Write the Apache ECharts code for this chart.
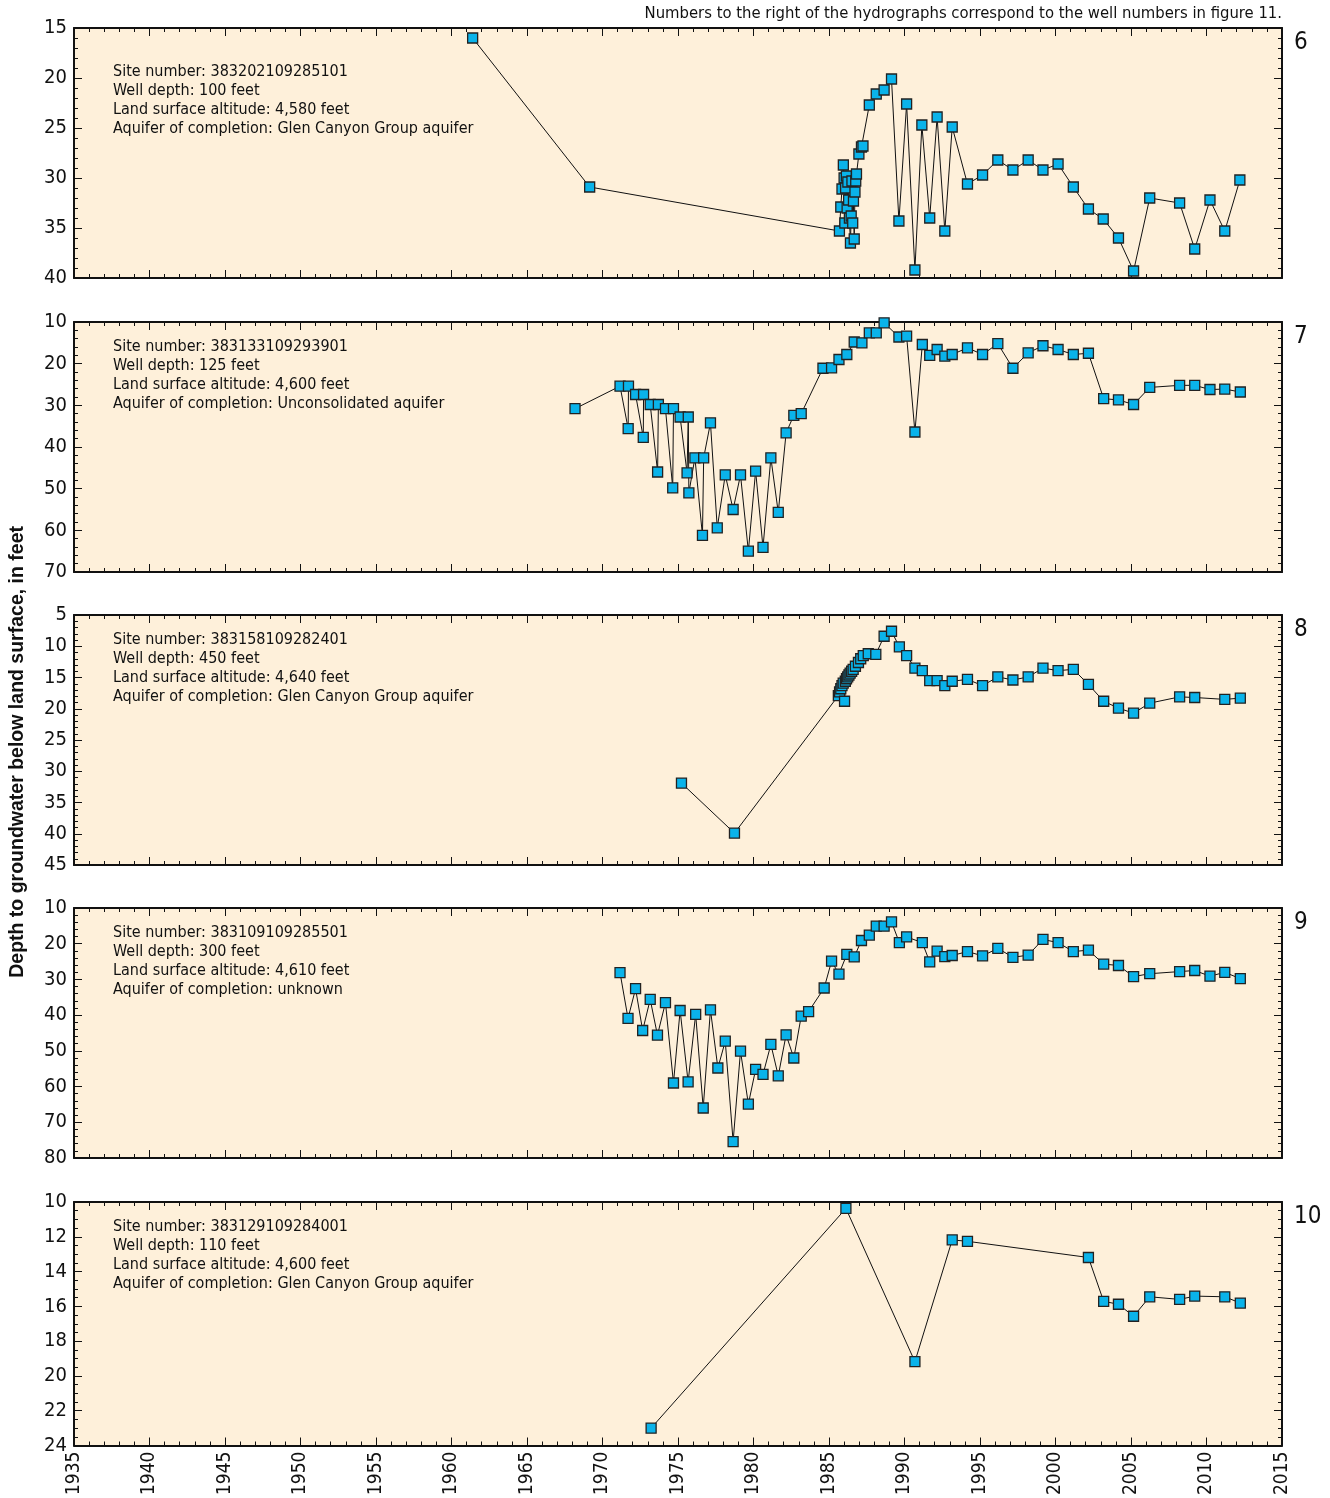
<!DOCTYPE html>
<html>
<head>
<meta charset="utf-8">
<script src="https://cdn.jsdelivr.net/npm/echarts@6/dist/echarts.min.js"></script>
<style>
  html, body { margin: 0; padding: 0; background: #ffffff; }
  #chart { width: 1330px; height: 1498px; }
</style>
</head>
<body>
<div id="chart"></div>
<script>
// Water-level measurements: [decimal year, depth to water in feet]
const well6 = [
  [1961.4, 16.0], [1969.15, 30.9],
  [1985.69, 35.3], [1985.78, 32.9], [1985.86, 31.1], [1985.95, 28.7], [1986.0, 30.0],
  [1986.05, 34.5], [1986.1, 31.0], [1986.15, 29.8], [1986.2, 33.0], [1986.25, 30.4],
  [1986.3, 32.2], [1986.35, 34.0], [1986.42, 36.5], [1986.47, 33.8], [1986.52, 30.3],
  [1986.57, 34.5], [1986.62, 32.3], [1986.67, 36.1], [1986.72, 31.4], [1986.77, 30.3],
  [1986.82, 29.6], [1986.98, 27.6], [1987.15, 26.9], [1987.25, 26.8], [1987.67, 22.7],
  [1988.13, 21.6], [1988.65, 21.2], [1989.14, 20.1], [1989.63, 34.3], [1990.14, 22.6],
  [1990.69, 39.2], [1991.15, 24.7], [1991.67, 34.0], [1992.16, 23.9], [1992.67, 35.3],
  [1993.16, 24.9], [1994.17, 30.6], [1995.17, 29.7], [1996.18, 28.2], [1997.18, 29.2],
  [1998.19, 28.2], [1999.17, 29.2], [2000.17, 28.6], [2001.18, 30.9], [2002.18, 33.1],
  [2003.16, 34.1], [2004.17, 36.0], [2005.17, 39.3], [2006.24, 32.0], [2008.22, 32.5],
  [2009.22, 37.1], [2010.23, 32.2], [2011.21, 35.3], [2012.21, 30.2]
];
const well7 = [
  [1968.18, 30.8], [1971.16, 25.4], [1971.7, 35.6], [1971.72, 25.4], [1972.19, 27.4],
  [1972.7, 37.7], [1972.72, 27.4], [1973.16, 29.8], [1973.65, 46.0], [1973.7, 29.8],
  [1974.17, 30.8], [1974.65, 49.8], [1974.7, 30.8], [1975.14, 32.8], [1975.6, 46.2],
  [1975.68, 32.8], [1975.72, 51.0], [1976.12, 42.6], [1976.62, 61.2], [1976.7, 42.6],
  [1977.15, 34.2], [1977.6, 59.4], [1978.13, 46.7], [1978.65, 55.0], [1979.14, 46.7],
  [1979.66, 65.0], [1980.14, 45.8], [1980.63, 64.1], [1981.15, 42.6], [1981.64, 55.7],
  [1982.16, 36.6], [1982.67, 32.4], [1983.16, 32.0], [1984.6, 21.1], [1985.17, 21.0],
  [1985.66, 19.0], [1986.18, 17.8], [1986.67, 14.8], [1987.18, 15.0], [1987.67, 12.6],
  [1988.13, 12.6], [1988.65, 10.2], [1989.63, 13.6], [1990.14, 13.4], [1990.69, 36.4],
  [1991.18, 15.4], [1991.67, 18.0], [1992.16, 16.6], [1992.67, 18.2], [1993.16, 17.8],
  [1994.17, 16.2], [1995.17, 17.8], [1996.18, 15.2], [1997.18, 21.1], [1998.19, 17.4],
  [1999.17, 15.7], [2000.17, 16.6], [2001.18, 17.8], [2002.18, 17.5], [2003.19, 28.4],
  [2004.17, 28.7], [2005.17, 29.8], [2006.24, 25.7], [2008.22, 25.2], [2009.22, 25.2],
  [2010.23, 26.2], [2011.21, 26.1], [2012.24, 26.8]
];
const well8 = [
  [1975.23, 31.9], [1978.74, 39.9], [1985.62, 17.9], [1985.7, 17.3], [1985.78, 16.8],
  [1985.86, 16.3], [1985.94, 15.9], [1986.03, 18.8], [1986.08, 15.6], [1986.16, 15.2],
  [1986.24, 14.9], [1986.32, 14.6], [1986.4, 14.3], [1986.5, 14.0], [1986.6, 13.7],
  [1986.75, 13.2], [1986.95, 12.6], [1987.1, 12.0], [1987.27, 11.5], [1987.6, 11.2],
  [1988.1, 11.3], [1988.65, 8.4], [1989.14, 7.6], [1989.66, 10.1], [1990.14, 11.5],
  [1990.69, 13.5], [1991.18, 13.9], [1991.67, 15.5], [1992.16, 15.5], [1992.67, 16.3],
  [1993.16, 15.6], [1994.17, 15.3], [1995.17, 16.3], [1996.18, 14.9], [1997.18, 15.4],
  [1998.19, 14.9], [1999.17, 13.5], [2000.17, 13.9], [2001.18, 13.7], [2002.18, 16.1],
  [2003.19, 18.8], [2004.17, 19.9], [2005.17, 20.7], [2006.24, 19.1], [2008.22, 18.1],
  [2009.22, 18.2], [2011.21, 18.5], [2012.24, 18.3]
];
const well9 = [
  [1971.16, 28.1], [1971.69, 40.9], [1972.19, 32.6], [1972.66, 44.3], [1973.16, 35.6],
  [1973.64, 45.6], [1974.17, 36.5], [1974.7, 59.0], [1975.14, 38.7], [1975.67, 58.7],
  [1976.17, 39.8], [1976.67, 66.0], [1977.15, 38.5], [1977.64, 54.8], [1978.13, 47.3],
  [1978.65, 75.4], [1979.14, 50.1], [1979.66, 64.9], [1980.14, 55.2], [1980.63, 56.6],
  [1981.15, 48.2], [1981.64, 57.0], [1982.16, 45.5], [1982.67, 52.0], [1983.16, 40.3],
  [1983.65, 39.0], [1984.68, 32.4], [1985.17, 24.9], [1985.66, 28.5], [1986.18, 23.0],
  [1986.67, 23.7], [1987.15, 19.1], [1987.67, 17.6], [1988.13, 15.1], [1988.65, 15.1],
  [1989.14, 13.9], [1989.66, 19.7], [1990.14, 18.1], [1991.18, 19.7], [1991.67, 25.1],
  [1992.16, 22.1], [1992.67, 23.6], [1993.16, 23.3], [1994.17, 22.2], [1995.17, 23.4],
  [1996.18, 21.3], [1997.18, 23.8], [1998.19, 23.2], [1999.17, 18.8], [2000.17, 19.7],
  [2001.18, 22.2], [2002.18, 21.8], [2003.19, 25.7], [2004.17, 26.1], [2005.17, 29.2],
  [2006.24, 28.4], [2008.22, 27.8], [2009.22, 27.5], [2010.23, 29.1], [2011.21, 28.0],
  [2012.24, 29.8]
];
const well10 = [
  [1973.22, 23.0], [1986.12, 10.37], [1990.69, 19.18], [1993.16, 12.18], [1994.17, 12.26],
  [2002.18, 13.19], [2003.19, 15.71], [2004.17, 15.88], [2005.17, 16.57], [2006.24, 15.45],
  [2008.22, 15.6], [2009.22, 15.41], [2011.21, 15.45], [2012.24, 15.81]
];

// Well descriptions
const wellNumbers = ['6', '7', '8', '9', '10'];
const siteNumbers = ['383202109285101', '383133109293901', '383158109282401', '383109109285501', '383129109284001'];
const wellDepths = ['100', '125', '450', '300', '110'];
const altitudes = ['4,580', '4,600', '4,640', '4,610', '4,600'];
const aquifers = ['Glen Canyon Group aquifer', 'Unconsolidated aquifer', 'Glen Canyon Group aquifer', 'unknown', 'Glen Canyon Group aquifer'];

// Depth axis ranges
const depthMin = [15, 10, 5, 10, 10];
const depthMax = [40, 70, 45, 80, 24];
const depthStep = [5, 10, 5, 10, 2];
const depthMinorSplit = [5, 5, 5, 5, 4];

// Year axis
const yearMin = 1935, yearMax = 2015, yearStep = 5;

const headerNote = 'Numbers to the right of the hydrographs correspond to the well numbers in figure 11.';
const yTitle = 'Depth to groundwater below land surface, in feet';

const wells = [well6, well7, well8, well9, well10];

// ---- layout ----
const FONT = '"Liberation Sans Narrow", "DejaVu Sans Condensed", "Roboto Condensed", "Liberation Sans", sans-serif';
const PLOT_LEFT = 74, PLOT_RIGHT = 1282, PLOT_H = 250;
const panelTops = [28, 322, 615, 908, 1202];
const infoOffsets = [44, 25, 25, 25, 25];
const PANEL_BG = '#FEF0DA';
const MARKER = '#0AB3EA';

const chart = echarts.init(document.getElementById('chart'), null, { renderer: 'canvas' });

const grids = [], xAxes = [], yAxes = [], series = [], graphics = [];

wells.forEach((data, i) => {
  const last = i === wells.length - 1;
  grids.push({
    left: PLOT_LEFT, width: PLOT_RIGHT - PLOT_LEFT, top: panelTops[i], height: PLOT_H,
    show: true, backgroundColor: PANEL_BG, borderWidth: 0
  });
  const xBase = {
    type: 'value', gridIndex: i, min: yearMin, max: yearMax, interval: yearStep,
    axisLine: { show: true, onZero: false, lineStyle: { color: '#111', width: 2 } },
    axisTick: { show: true, inside: true, length: 8, lineStyle: { color: '#111', width: 1 } },
    minorTick: { show: true, splitNumber: 5, length: 4, lineStyle: { color: '#111', width: 1 } },
    splitLine: { show: false }
  };
  xAxes.push(Object.assign({}, xBase, {
    position: 'bottom',
    axisLabel: {
      show: last, rotate: 90, margin: 6, color: '#111',
      fontFamily: FONT, fontSize: 19,
      formatter: v => String(v)
    }
  }));
  xAxes.push(Object.assign({}, xBase, { position: 'top', axisLabel: { show: false } }));

  const yBase = {
    type: 'value', gridIndex: i, inverse: true,
    min: depthMin[i], max: depthMax[i], interval: depthStep[i],
    axisLine: { show: true, onZero: false, lineStyle: { color: '#111', width: 2 } },
    axisTick: { show: true, inside: true, length: 8, lineStyle: { color: '#111', width: 1 } },
    minorTick: { show: true, splitNumber: depthMinorSplit[i], length: 4, lineStyle: { color: '#111', width: 1 } },
    splitLine: { show: false }
  };
  yAxes.push(Object.assign({}, yBase, {
    position: 'left',
    axisLabel: { show: true, margin: 7, color: '#111', fontFamily: FONT, fontSize: 20 }
  }));
  yAxes.push(Object.assign({}, yBase, { position: 'right', axisLabel: { show: false } }));

  series.push({
    type: 'line', name: 'Well ' + wellNumbers[i],
    xAxisIndex: 2 * i, yAxisIndex: 2 * i,
    data: data,
    symbol: 'rect', symbolSize: 10,
    lineStyle: { color: '#111', width: 1 },
    itemStyle: { color: MARKER, borderColor: '#222', borderWidth: 1.3 },
    animation: false, z: 3
  });

  graphics.push({
    type: 'text', left: 113, top: panelTops[i] + infoOffsets[i] - 10,
    style: {
      text: [
        'Site number: ' + siteNumbers[i],
        'Well depth: ' + wellDepths[i] + ' feet',
        'Land surface altitude: ' + altitudes[i] + ' feet',
        'Aquifer of completion: ' + aquifers[i]
      ].join('\n'),
      fill: '#111', font: '16px ' + FONT, lineHeight: 19
    },
    z: 10
  });
  graphics.push({
    type: 'text', left: 1294, top: panelTops[i] + 3,
    style: { text: wellNumbers[i], fill: '#111', font: '24px ' + FONT },
    z: 10
  });
});

graphics.push({
  type: 'text', right: 1330 - PLOT_RIGHT, top: 5,
  style: { text: headerNote, fill: '#111', font: '16.5px ' + FONT, textAlign: 'right' },
  z: 10
});
graphics.push({
  type: 'text', left: 8, top: 526,
  rotation: Math.PI / 2,
  style: {
    text: yTitle, fill: '#111',
    font: 'bold 19.5px "Liberation Sans", Arial, sans-serif'
  },
  z: 10
});

chart.setOption({
  animation: false,
  backgroundColor: '#ffffff',
  grid: grids,
  xAxis: xAxes,
  yAxis: yAxes,
  series: series,
  graphic: graphics
});
</script>
</body>
</html>
